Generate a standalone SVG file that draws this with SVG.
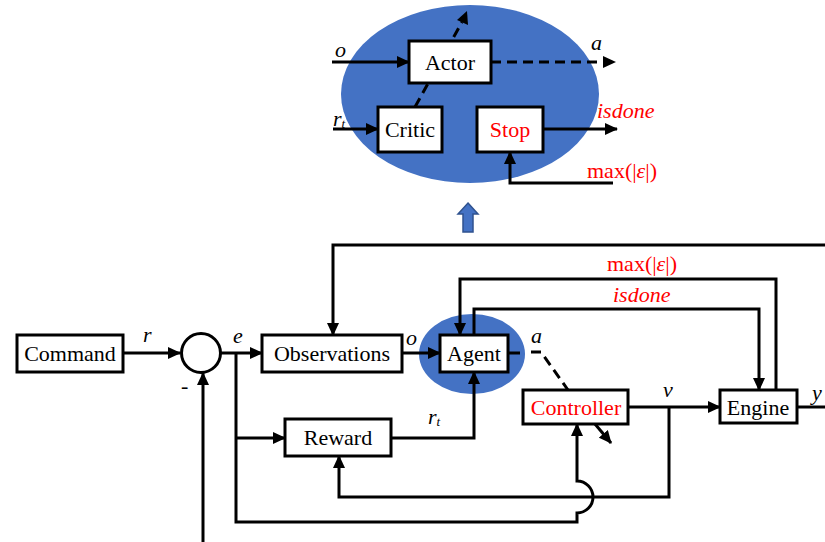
<svg xmlns="http://www.w3.org/2000/svg" width="825" height="542" viewBox="0 0 825 542">
  <defs>
    <marker id="arrow" viewBox="0 0 13 12" markerWidth="13" markerHeight="12" refX="12" refY="6" orient="auto" markerUnits="userSpaceOnUse">
      <path d="M0,0 L13,6 L0,12 Z" fill="#000"/>
    </marker>
    <style>
      .box { fill: #fff; stroke: #000; stroke-width: 3; }
      .wire { fill: none; stroke: #000; stroke-width: 3; }
      .dash { fill: none; stroke: #000; stroke-width: 3; stroke-dasharray: 10 6; }
      .lbl { font-size: 22px; fill: #000; }
      .c { text-anchor: middle; }
      .red { fill: #ff0000; }
      .it { font-style: italic; }
      .blob { fill: #4472c4; }
    </style>
  </defs>
  <rect width="825" height="542" fill="#fff"/>

  <g font-family="'Liberation Serif', 'DejaVu Serif', serif">
  <!-- agent internals (zoomed view) -->
  <g id="agent-detail">
    <ellipse class="blob" cx="470" cy="94" rx="129" ry="89"/>
  </g>
  <!-- agent blob behind the Agent block -->
  <g id="agent-blob">
    <ellipse class="blob" cx="472" cy="354" rx="53" ry="40"/>
  </g>

  <g id="connectors">
    <!-- agent internals wiring -->
    <path class="wire" d="M332,62 H409" marker-end="url(#arrow)"/>
    <path class="dash" d="M491,62 H606"/>
    <path d="M603,56 L616,62 L603,68 Z" fill="#000"/>
    <path class="dash" d="M415,107 L462,22"/>
    <path d="M457,20 L467,11 L468,25 Z" fill="#000"/>
    <path class="wire" d="M333,129 H378" marker-end="url(#arrow)"/>
    <path class="wire" d="M543,129 H617" marker-end="url(#arrow)"/>
    <path class="wire" d="M613,183 H510 V152" marker-end="url(#arrow)"/>

    <!-- closed loop wiring -->
    <path class="wire" d="M123,353 H180" marker-end="url(#arrow)"/>
    <path class="wire" d="M203,542 V373" marker-end="url(#arrow)"/>
    <path class="wire" d="M221,353 H262" marker-end="url(#arrow)"/>
    <path class="wire" d="M236,353 V522 H577 V513 A8,8 0 0 0 577,481 V424" marker-end="url(#arrow)"/>
    <path class="wire" d="M236,438 H285" marker-end="url(#arrow)"/>
    <path class="wire" d="M825,245 H333 V335" marker-end="url(#arrow)"/>
    <path class="wire" d="M402,353 H440" marker-end="url(#arrow)"/>
    <path class="wire" d="M391,438 H474 V372" marker-end="url(#arrow)"/>
    <path class="wire" d="M776,390 V279 H460 V335" marker-end="url(#arrow)"/>
    <path class="wire" d="M474,335 V309 H759 V390" marker-end="url(#arrow)"/>
    <path class="wire" d="M628,407 H720" marker-end="url(#arrow)"/>
    <path class="wire" d="M669,407 V497 H339 V456" marker-end="url(#arrow)"/>
    <path class="wire" d="M797,407 H825"/>
    <path class="wire" d="M595,424 L611,443" marker-end="url(#arrow)"/>
    <path class="wire" d="M508,353 H520"/>
    <path class="dash" d="M531,352 H541 L568,390"/>
  </g>

  <g id="actor">
    <rect class="box" x="409" y="41" width="82" height="42"/>
    <text class="lbl c" x="450" y="70">Actor</text>
  </g>
  <g id="critic">
    <rect class="box" x="378" y="107" width="64" height="45"/>
    <text class="lbl c" x="410" y="137">Critic</text>
  </g>
  <g id="stop">
    <rect class="box" x="477" y="107" width="66" height="45"/>
    <text class="lbl c red" x="510" y="137">Stop</text>
  </g>

  <g id="expand-arrow">
    <path d="M468,203 L478,214 L473,214 L473,232 L463,232 L463,214 L458,214 Z" fill="#4472c4" stroke="#2f528f" stroke-width="1.5"/>
  </g>

  <g id="command">
    <rect class="box" x="17" y="335" width="106" height="37"/>
    <text class="lbl c" x="70" y="361">Command</text>
  </g>
  <g id="sum">
    <circle cx="201" cy="353" r="19.5" fill="#fff" stroke="#000" stroke-width="3"/>
  </g>
  <g id="observations">
    <rect class="box" x="262" y="335" width="140" height="37"/>
    <text class="lbl c" x="332" y="361">Observations</text>
  </g>
  <g id="reward">
    <rect class="box" x="285" y="419" width="106" height="37"/>
    <text class="lbl c" x="338" y="445">Reward</text>
  </g>
  <g id="agent">
    <rect class="box" x="440" y="335" width="68" height="37"/>
    <text class="lbl c" x="474" y="361">Agent</text>
  </g>
  <g id="controller">
    <rect class="box" x="523" y="390" width="105" height="34"/>
    <text class="lbl c red" x="576" y="415">Controller</text>
  </g>
  <g id="engine">
    <rect class="box" x="720" y="390" width="77" height="33"/>
    <text class="lbl c" x="758" y="415">Engine</text>
  </g>

  <!-- signal labels -->
  <g id="labels">
    <text class="lbl it" x="335" y="57">o</text>
    <text class="lbl it" x="333" y="126">r<tspan font-size="13" dy="2">t</tspan></text>
    <text class="lbl it" x="591" y="50">a</text>
    <text class="lbl it red" x="597" y="118">isdone</text>
    <text class="lbl red" x="587" y="178">max(|<tspan class="it">ε</tspan>|)</text>

    <text class="lbl it" x="143" y="342">r</text>
    <text class="lbl it" x="233" y="343">e</text>
    <text class="lbl" x="181" y="393">-</text>
    <text class="lbl it" x="406" y="345">o</text>
    <text class="lbl it" x="531" y="343">a</text>
    <text class="lbl it" x="428" y="424">r<tspan font-size="13" dy="2">t</tspan></text>
    <text class="lbl it" x="663" y="397">v</text>
    <text class="lbl it" x="812" y="400">y</text>
    <text class="lbl red" x="607" y="271">max(|<tspan class="it">ε</tspan>|)</text>
    <text class="lbl it red" x="613" y="302">isdone</text>
  </g>
  </g>
</svg>
